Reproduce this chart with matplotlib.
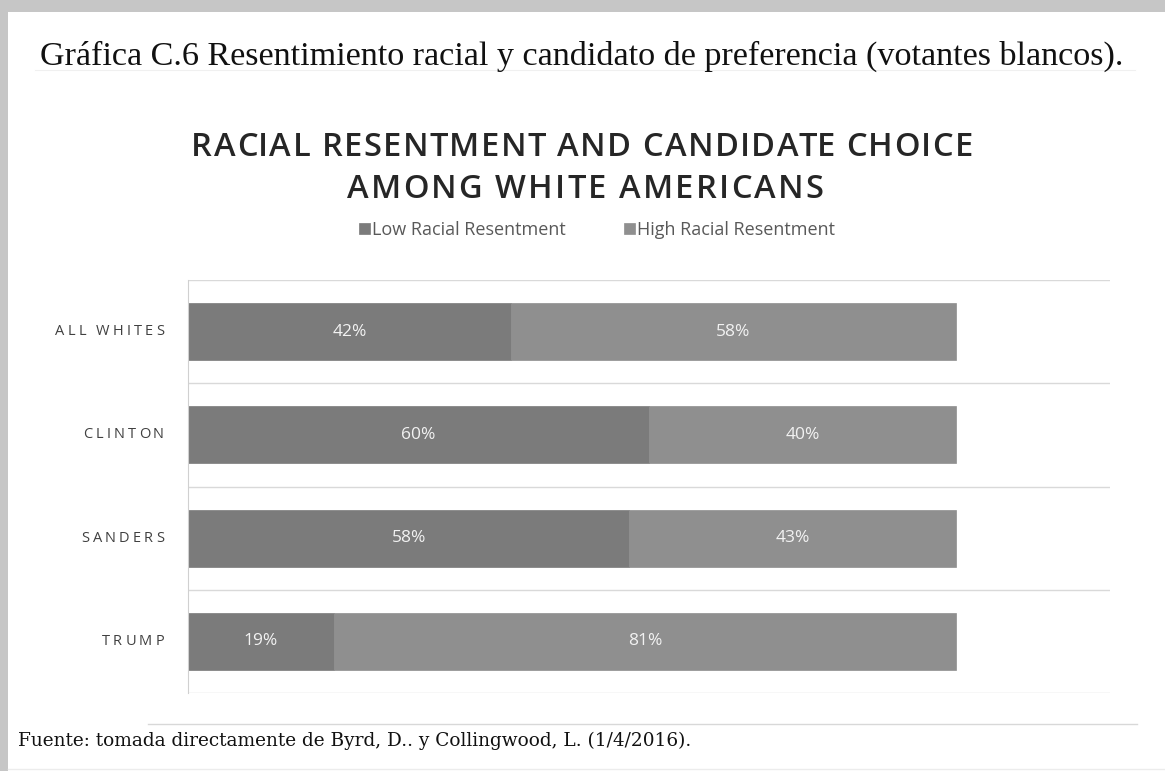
import matplotlib
matplotlib.use("Agg")
import matplotlib.pyplot as plt
from matplotlib.patches import Rectangle
from matplotlib.lines import Line2D
from matplotlib.font_manager import FontProperties

categories = ["ALL WHITES", "CLINTON", "SANDERS", "TRUMP"]
low_values = [42, 60, 58, 19]
high_values = [58, 40, 43, 81]
series_names = ["Low Racial Resentment", "High Racial Resentment"]
chart_title_lines = ["RACIAL RESENTMENT AND CANDIDATE CHOICE", "AMONG WHITE AMERICANS"]
page_title = "Gráfica C.6 Resentimiento racial y candidato de preferencia (votantes blancos)."
source_note = "Fuente: tomada directamente de Byrd, D.. y Collingwood, L. (1/4/2016)."

low_color = "#7b7b7b"
high_color = "#8f8f8f"

W, H = 1165, 771
fig = plt.figure(figsize=(W / 100, H / 100), dpi=100)
fig.patch.set_facecolor("white")
renderer = fig.canvas.get_renderer()


def fx(px):
    return px / W


def fy(py):
    return 1 - py / H


def text_w(s, fp):
    if not s:
        return 0.0
    w_ref = renderer.get_text_width_height_descent("l", fp, ismath=False)[0]
    w = renderer.get_text_width_height_descent(s + "l", fp, ismath=False)[0]
    return w - w_ref


def spaced_text(x_px, y_px, s, fp, spacing, ha="center", color="black"):
    """Draw letter-spaced text on the figure (pixel coordinates from top-left)."""
    total = text_w(s, fp) + spacing * (len(s) - 1)
    if ha == "center":
        x0 = x_px - total / 2
    elif ha == "right":
        x0 = x_px - total
    else:
        x0 = x_px
    for i, ch in enumerate(s):
        if ch == " ":
            continue
        xi = x0 + text_w(s[:i], fp) + spacing * i
        fig.text(fx(xi), fy(y_px), ch, fontproperties=fp, color=color,
                 ha="left", va="center")


# page decorations (gray border, rules)
fig.add_artist(Rectangle((0, fy(12)), 1, 12 / H, transform=fig.transFigure,
                         color="#c6c6c6", lw=0, zorder=0))
fig.add_artist(Rectangle((0, 0), fx(8), 1, transform=fig.transFigure,
                         color="#c6c6c6", lw=0, zorder=0))
fig.add_artist(Line2D([fx(35), fx(1135)], [fy(70), fy(70)], transform=fig.transFigure,
                      color="#f0f0f0", lw=0.8))
fig.add_artist(Line2D([fx(148), fx(1137)], [fy(724), fy(724)], transform=fig.transFigure,
                      color="#d8d8d8", lw=1.0))
fig.add_artist(Line2D([fx(8), fx(1165)], [fy(769), fy(769)], transform=fig.transFigure,
                      color="#ececec", lw=1.0))

fig.text(fx(40), fy(56), page_title,
         family="Liberation Serif", fontsize=24.6, color="#111111", va="center", ha="left")

title_fp = FontProperties(family="Open Sans", weight="semibold", size=23.5)
spaced_text(582, 148, chart_title_lines[0], title_fp, 1.4, color="#262626")
spaced_text(585, 190, chart_title_lines[1], title_fp, 2.2, color="#262626")

fig.text(fx(18), fy(741), source_note,
         family="DejaVu Serif", fontsize=13.3, color="#111111", va="center", ha="left")

ax_left, ax_right, ax_top, ax_bottom = 188, 1110, 280, 693
ax = fig.add_axes([fx(ax_left), fy(ax_bottom), fx(ax_right) - fx(ax_left), fy(ax_top) - fy(ax_bottom)])
ax.set_xlim(0, 120)
ax.set_ylim(len(categories) - 0.5, -0.5)

ypos = list(range(len(categories)))
low_share = [l / (l + h) * 100 for l, h in zip(low_values, high_values)]
high_share = [h / (l + h) * 100 for l, h in zip(low_values, high_values)]

b1 = ax.barh(ypos, low_share, height=0.55, color=low_color, label=series_names[0],
             edgecolor=low_color, lw=0.5)
b2 = ax.barh(ypos, high_share, left=low_share, height=0.55, color=high_color,
             label=series_names[1], edgecolor=high_color, lw=0.5)

for i in ypos:
    ax.text(low_share[i] / 2, i, f"{low_values[i]}%", ha="center", va="center",
            color="#f2f2f2", fontsize=12.5, family="Open Sans")
    ax.text(low_share[i] + high_share[i] / 2, i, f"{high_values[i]}%", ha="center",
            va="center", color="#f2f2f2", fontsize=12.5, family="Open Sans")

for yb in [-0.5, 0.5, 1.5, 2.5, 3.5]:
    ax.axhline(yb, color="#d9d9d9", lw=1.0, zorder=0)

for s in ["top", "right", "bottom"]:
    ax.spines[s].set_visible(False)
ax.spines["left"].set_color("#d0d0d0")
ax.set_xticks([])
ax.set_yticks(ypos)
ax.set_yticklabels([])
ax.tick_params(axis="y", length=0)

# letter-spaced category labels, placed at each bar's data position
cat_fp = FontProperties(family="Open Sans", size=10.5)
for i, cat in enumerate(categories):
    disp = ax.transData.transform((0, ypos[i]))
    y_px = H - disp[1]
    spaced_text(164, y_px, cat, cat_fp, 3.1, ha="right", color="#404040")

leg = fig.legend(handles=[b1, b2], labels=series_names, loc="center",
                 bbox_to_anchor=(fx(597), fy(230)), ncol=2, frameon=False,
                 prop={"family": "Open Sans", "size": 13}, handlelength=0.6,
                 handleheight=0.6, handletextpad=0.15, columnspacing=3.2)
for t in leg.get_texts():
    t.set_color("#595959")

fig.savefig("out.png", dpi=100, facecolor="white")
